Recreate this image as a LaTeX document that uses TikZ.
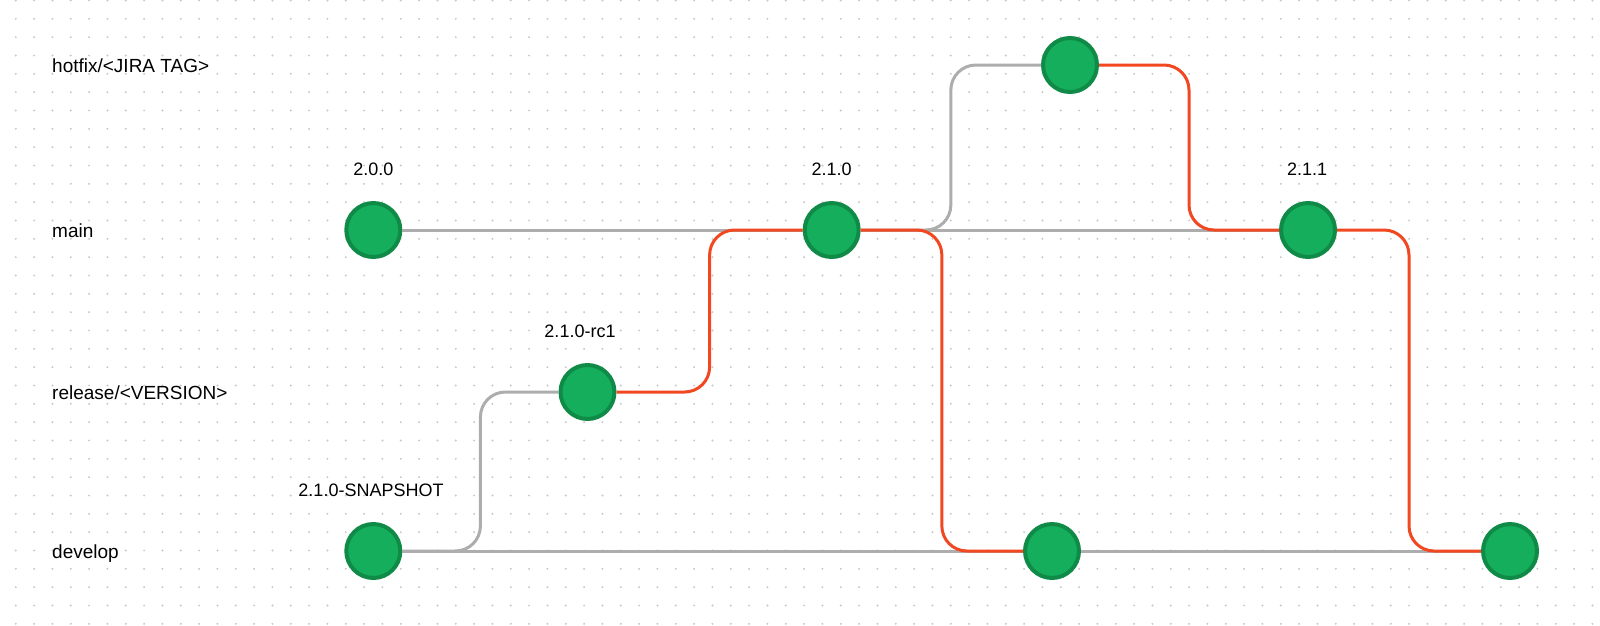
\documentclass[tikz,border=0pt]{standalone}
\usepackage{fontspec}
\setmainfont{Liberation Sans}
\usetikzlibrary{calc}

\definecolor{commitgreen}{HTML}{14AE5C}
\definecolor{commitedge}{HTML}{0F8A47}
\definecolor{mergered}{HTML}{F24822}
\definecolor{trunkgray}{HTML}{ADADAD}
\definecolor{dotgray}{HTML}{C8C8C8}

\tikzset{
  commit/.style={circle, fill=commitgreen, draw=commitedge, line width=4pt, minimum size=54pt, inner sep=0pt},
  branchname/.style={anchor=base west, inner sep=0pt, font=\fontsize{19}{23}\selectfont},
  tagname/.style={anchor=base, inner sep=0pt, font=\fontsize{18}{22}\selectfont},
  flow/.style={line width=3pt, trunkgray, rounded corners=25pt},
  merge/.style={line width=3pt, mergered, rounded corners=25pt},
  hop/.style={to path={-| ($(\tikztostart)!0.5!(\tikztotarget)$) |- (\tikztotarget)}}
}

\begin{document}
\begin{tikzpicture}[x=1pt, y=-1pt]

    % Canvas
    \useasboundingbox (0,0) rectangle (1600,625);
    \fill[white] (0,0) rectangle (1600,625);

    % Dot grid
    \foreach \i in {0,...,86}
        \foreach \j in {0,...,34}
            \fill[dotgray] ({15.8+18.333*\i}, {0.5+18.333*\j}) circle (1.1pt);

    % Branch names
    \node[branchname] (lhotfix) at (52, 72) {hotfix/<JIRA TAG>};
    \node[branchname] (lmain) at (52, 237) {main};
    \node[branchname] (lrelease) at (52, 399) {release/<VERSION>};
    \node[branchname] (ldevelop) at (52, 558) {develop};

    % Commits
    \node[commit] (c200) at (373.3, 230) {};
    \node[commit] (c210) at (831.7, 230) {};
    \node[commit] (c211) at (1308, 230) {};
    \node[commit] (hfix) at (1070, 65) {};
    \node[commit] (rc1) at (587.5, 392) {};
    \node[commit] (snap) at (373.3, 551) {};
    \node[commit] (dev2) at (1052, 551) {};
    \node[commit] (dev3) at (1510, 551) {};

    % Tags
    \node[tagname] (t200) at (373.3, 175) {2.0.0};
    \node[tagname] (t210) at (831.7, 175) {2.1.0};
    \node[tagname] (t211) at (1307, 175) {2.1.1};
    \node[tagname] (trc1) at (580, 337) {2.1.0-rc1};
    \node[tagname] (tsnap) at (371, 496) {2.1.0-SNAPSHOT};

    % Branch lines
    \draw[flow] (c200) -- (c210);
    \draw[flow] (c210) -- (c211);
    \draw[flow] (snap) -- (dev2);
    \draw[flow] (dev2) -- (dev3);
    \draw[flow] (snap) to[hop] (rc1);
    \draw[flow] (c210) to[hop] (hfix);

    % Merges
    \draw[merge] (rc1) to[hop] (c210);
    \draw[merge] (c210) to[hop] (dev2);
    \draw[merge] (hfix) to[hop] (c211);
    \draw[merge] (c211) to[hop] (dev3);

\end{tikzpicture}
\end{document}
